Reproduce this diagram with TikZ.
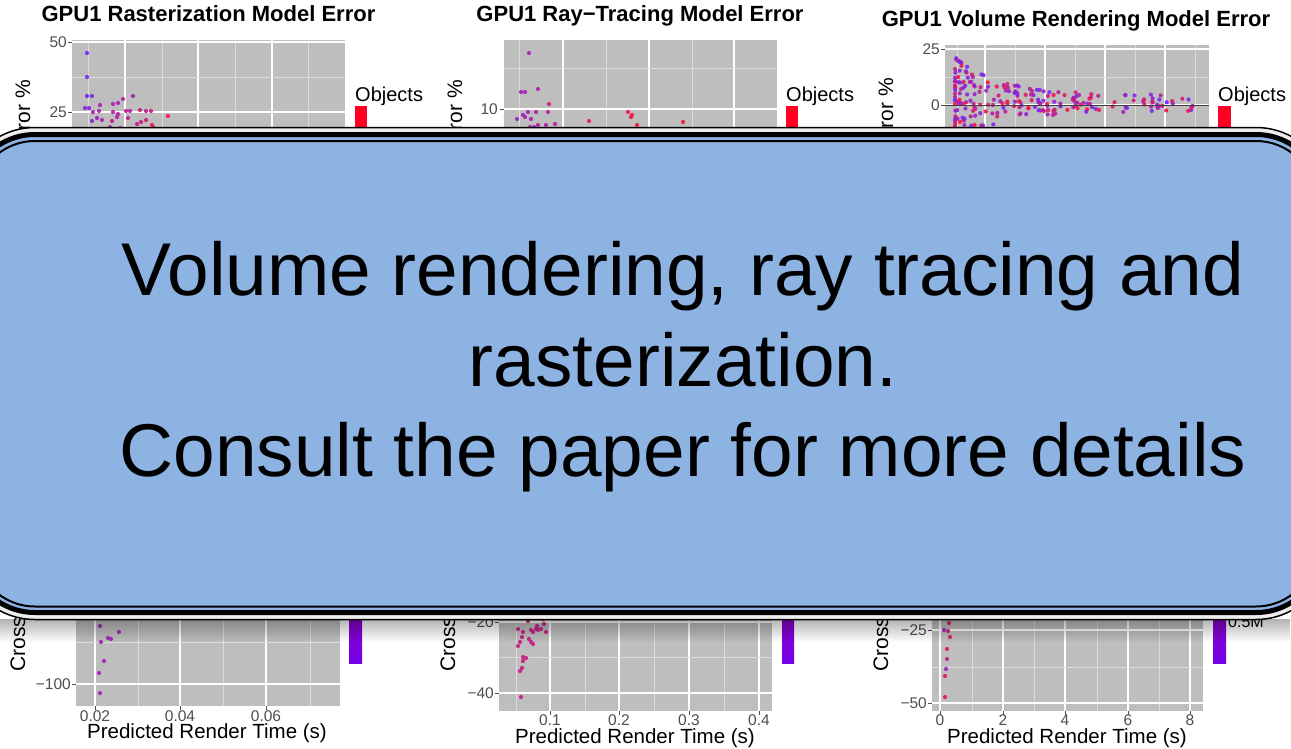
\documentclass[tikz,border=0pt]{standalone}
\usepackage{fontspec}
\setmainfont{Liberation Sans}
\usetikzlibrary{fadings}
\definecolor{panelgrey}{RGB}{190,190,190}
\definecolor{gridminor}{RGB}{220,220,220}
\definecolor{tickgrey}{RGB}{77,77,77}
\definecolor{boxblue}{RGB}{141,179,226}
\definecolor{hot}{RGB}{255,20,60}
\definecolor{cold}{RGB}{110,40,255}
\definecolor{barred}{RGB}{255,0,34}
\definecolor{barviolet}{RGB}{116,0,232}
\newcommand{\setfs}[1]{\fontsize{#1}{#1}\selectfont}
\newcommand{\spot}[3]{\fill[hot!#3!cold, opacity=.9] (#1,#2) circle (2.1);}
\begin{document}
\begin{tikzpicture}[x=1pt,y=-1pt,
  title/.style={font=\bfseries\setfs{22}, inner sep=0, anchor=base},
  ticklab/.style={font=\setfs{15.5}, text=tickgrey, inner sep=0},
  axtitle/.style={font=\setfs{20.5}, inner sep=0, anchor=base},
  ylab/.style={font=\setfs{21}, inner sep=0, rotate=90},
  leglab/.style={font=\setfs{20}, inner sep=0, anchor=base west},
  smalllab/.style={font=\setfs{16}, inner sep=0, anchor=base west},
  boxtext/.style={font=\setfs{74.8}, inner sep=0, anchor=base},
  gmaj/.style={white, line width=1.1},
  gmin/.style={gridminor, line width=0.6},
  tickmark/.style={tickgrey, line width=0.8},
  ]
\useasboundingbox (0,0) rectangle (1291,748);
\clip (0,0) rectangle (1291,748);

% ---------- top row: model error ----------
% rasterization
\node[title] (t1) at (208.5,21.5) {GPU1 Rasterization Model Error};
\fill[panelgrey] (72,40) rectangle (345,330);
\foreach \x in {88,162,235,308} \draw[gmin] (\x,40) -- (\x,330);
\foreach \x in {125,198,272} \draw[gmaj] (\x,40) -- (\x,330);
\draw[gmaj] (72,42) -- (345,42);
\draw[gmin] (72,77) -- (345,77);
\draw[gmaj] (72,112) -- (345,112);
\draw[gmin] (72,147) -- (345,147);
\draw[tickmark] (68,42) -- (72,42) (68,112) -- (72,112);
\node[ticklab, anchor=east] (p1a) at (67,42) {50};
\node[ticklab, anchor=east] (p1b) at (67,112) {25};
\node[ylab, anchor=base east] (y1) at (30,80) {Error \%};
\foreach \a/\b/\c in {87/53/0, 87/77/5, 87/96/8, 92/96/10, 85/108/12, 89/108/18,
  100/105/40, 113/104/42, 118/103/45, 123/99/50, 133/96/45, 93/112/38, 99/111/40,
  113/112/50, 118/114/50, 126/111/55, 130/111/50, 140/110/62, 146/111/60, 151/111/66,
  168/116/88, 97/118/30, 92/121/25, 102/120/40, 112/121/55, 117/117/45, 128/118/55,
  137/124/60, 141/122/65, 146/120/70, 152/125/80, 88/130/10, 145/129/70, 153/127/82,
  168/131/92, 190/129/80, 110/127/45, 120/128/50}
  {\spot{\a}{\b}{\c}}
\node[leglab] (o1) at (355,101) {Objects};
\fill[barred] (355,106) rectangle (367,330);

% ray tracing
\node[title] (t2) at (640,21) {GPU1 Ray\char"2212 Tracing Model Error};
\fill[panelgrey] (504,40) rectangle (777,330);
\foreach \x in {519,606,692} \draw[gmin] (\x,40) -- (\x,330);
\foreach \x in {563,649,734} \draw[gmaj] (\x,40) -- (\x,330);
\draw[gmin] (504,68) -- (777,68);
\draw[gmaj] (504,109) -- (777,109);
\draw[gmin] (504,150) -- (777,150);
\draw[tickmark] (500,109) -- (504,109);
\node[ticklab, anchor=east] (p2a) at (498,109) {10};
\node[ylab, anchor=base east] (y2) at (462,80) {Error \%};
\foreach \a/\b/\c in {529/53/40, 521/92/30, 525/92/35, 538/89/45, 549/104/70,
  517/119/30, 523/115/35, 525/117/40, 528/112/40, 531/119/40, 536/112/45, 548/112/55,
  530/127/40, 534/127/42, 538/125/45, 546/125/50, 555/124/55, 589/121/90, 628/112/95,
  632/115/90, 631/117/92, 637/125/95, 683/122/100, 567/131/60, 598/131/90, 607/131/90,
  520/130/35, 527/131/40}
  {\spot{\a}{\b}{\c}}
\node[leglab] (o2) at (786,101) {Objects};
\fill[barred] (786,106) rectangle (798,330);

% volume rendering
\node[title] (t3) at (1076,26.5) {GPU1 Volume Rendering Model Error};
\fill[panelgrey] (945,45) rectangle (1209,330);
\foreach \x in {957,1015,1075,1135,1195} \draw[gmin] (\x,45) -- (\x,330);
\foreach \x in {985,1045,1105,1165} \draw[gmaj] (\x,45) -- (\x,330);
\draw[gmaj] (945,49) -- (1209,49);
\draw[gmin] (945,77) -- (1209,77);
\draw[gmaj] (945,105) -- (1209,105);
\draw[gmin] (945,133) -- (1209,133);
\draw[tickmark] (941,49) -- (945,49) (941,105) -- (945,105);
\node[ticklab, anchor=east] (p3a) at (940,49) {25};
\node[ticklab, anchor=east] (p3b) at (940,105) {0};
\node[ylab, anchor=base east] (y3) at (893,78) {Error \%};
\pgfmathsetseed{11}
\foreach \i in {1,...,240}{
  \pgfmathsetmacro{\uu}{rnd}
  \pgfmathsetmacro{\ppx}{955+242*pow(\uu,2.3)}
  \pgfmathsetmacro{\spr}{8+38*exp(-(\ppx-955)/45)}
  \pgfmathsetmacro{\ppy}{103+\spr*(2*rnd-1)}
  \pgfmathtruncatemacro{\mix}{100*rnd}
  \fill[hot!\mix!cold, opacity=.9] (\ppx,\ppy) circle (2.1);
}
\draw[tickgrey!80!black, line width=0.9] (945,105) -- (1209,105);
\node[leglab] (o3) at (1218,101) {Objects};
\fill[barred] (1218,106) rectangle (1231,330);

% ---------- bottom row: cross validation error ----------
% rasterization
\fill[panelgrey] (76,420) rectangle (340,706);
\foreach \x in {95,180,266} \draw[gmaj] (\x,420) -- (\x,706);
\foreach \x in {138,223,310} \draw[gmin] (\x,420) -- (\x,706);
\draw[gmaj] (76,600) -- (340,600);
\draw[gmin] (76,642) -- (340,642);
\draw[gmaj] (76,684) -- (340,684);
\draw[tickmark] (72,684) -- (76,684);
\foreach \x in {95,180,266} \draw[tickmark] (\x,706) -- (\x,710);
\node[ticklab, anchor=east] (q1a) at (71,684) {\char"2212 100};
\node[ticklab, anchor=base] (q1x1) at (95,721) {0.02};
\node[ticklab, anchor=base] (q1x2) at (180,721) {0.04};
\node[ticklab, anchor=base] (q1x3) at (266,721) {0.06};
\node[axtitle] (x1) at (207,738.5) {Predicted Render Time (s)};
\node[ylab, anchor=base west] (c1) at (25,672) {Cross Validation Error \%};
\foreach \a/\b in {100/618, 100/626, 119/632, 108/638, 111/639, 101/642, 104/661, 99/673, 100/693}
  {\spot{\a}{\b}{35}}
\shade[top color=barred, bottom color=barviolet] (349,380) rectangle (362,663);
\node[smalllab] (m1) at (367,619) {0.5M};

% ray tracing
\fill[panelgrey] (499,420) rectangle (772,711);
\foreach \x in {550,619,689,759} \draw[gmaj] (\x,420) -- (\x,711);
\foreach \x in {516,585,654,724} \draw[gmin] (\x,420) -- (\x,711);
\draw[gmaj] (499,622) -- (772,622);
\draw[gmin] (499,657) -- (772,657);
\draw[gmaj] (499,693) -- (772,693);
\draw[tickmark] (495,622) -- (499,622) (495,693) -- (499,693);
\foreach \x in {550,619,689,759} \draw[tickmark] (\x,711) -- (\x,715);
\node[ticklab, anchor=east] (q2a) at (494,622) {\char"2212 20};
\node[ticklab, anchor=east] (q2b) at (494,693) {\char"2212 40};
\node[ticklab, anchor=base] (q2x1) at (550,725) {0.1};
\node[ticklab, anchor=base] (q2x2) at (619,725) {0.2};
\node[ticklab, anchor=base] (q2x3) at (689,725) {0.3};
\node[ticklab, anchor=base] (q2x4) at (759,725) {0.4};
\node[axtitle] (x2) at (635,743) {Predicted Render Time (s)};
\node[ylab, anchor=base west] (c2) at (455,672) {Cross Validation Error \%};
\foreach \a/\b in {515/618, 523/617, 528/621, 543/619, 518/629, 523/632, 531/630,
  533/632, 536/629, 538/630, 541/629, 544/624, 546/632, 537/626, 522/637, 520/642,
  518/646, 529/639, 531/642, 533/644, 523/657, 526/658, 523/661, 522/668, 520/671, 521/697}
  {\spot{\a}{\b}{62}}
\shade[top color=barred, bottom color=barviolet] (782,380) rectangle (794,663);
\node[smalllab] (m2) at (798,619) {0.5M};

% volume rendering
\fill[panelgrey] (932,420) rectangle (1203,711);
\foreach \x in {940,1003,1065,1128,1190} \draw[gmaj] (\x,420) -- (\x,711);
\foreach \x in {972,1034,1097,1159} \draw[gmin] (\x,420) -- (\x,711);
\draw[gmaj] (932,630) -- (1203,630);
\draw[gmin] (932,667) -- (1203,667);
\draw[gmaj] (932,703) -- (1203,703);
\draw[tickmark] (928,630) -- (932,630) (928,703) -- (932,703);
\foreach \x in {940,1003,1065,1128,1190} \draw[tickmark] (\x,711) -- (\x,715);
\node[ticklab, anchor=east] (q3a) at (927,630) {\char"2212 25};
\node[ticklab, anchor=east] (q3b) at (927,703) {\char"2212 50};
\node[ticklab, anchor=base] (q3x1) at (940,725) {0};
\node[ticklab, anchor=base] (q3x2) at (1003,725) {2};
\node[ticklab, anchor=base] (q3x3) at (1065,725) {4};
\node[ticklab, anchor=base] (q3x4) at (1128,725) {6};
\node[ticklab, anchor=base] (q3x5) at (1190,725) {8};
\node[axtitle] (x3) at (1067,743) {Predicted Render Time (s)};
\node[ylab, anchor=base west] (c3) at (888,672) {Cross Validation Error \%};
\foreach \a/\b/\c in {947/618/75, 949/623/70, 944/630/30, 948/631/72, 950/637/75,
  947/649/78, 947/659/60, 946/669/30, 945/676/75, 945/697/80}
  {\spot{\a}{\b}{\c}}
\shade[top color=barred, bottom color=barviolet] (1213,380) rectangle (1226,663);
\node[smalllab] (m3) at (1228,627) {0.5M};

% ---------- overlay box ----------
\fill[black, opacity=.3, path fading=south] (0,619) rectangle (1291,642);
\draw[black, line width=1.5, fill=gray!14, rounded corners=74] (-39,127.5) rectangle (1330,619.5);
\draw[black, line width=5, fill=boxblue, rounded corners=67] (-32,134.5) rectangle (1323,612.5);
\draw[black, line width=2, fill=boxblue, rounded corners=60] (-25,141) rectangle (1316,606.5);
\node[boxtext] (l1) at (683,295) {Volume rendering, ray tracing and};
\node[boxtext] (l2) at (683,386) {rasterization.};
\node[boxtext] (l3) at (683,476) {Consult the paper for more details};
\end{tikzpicture}
\end{document}
